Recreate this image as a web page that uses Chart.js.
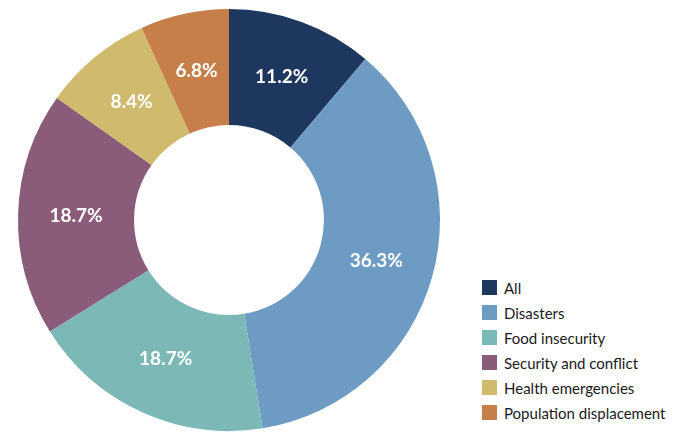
<!DOCTYPE html>
<html>
<head>
<meta charset="utf-8">
<script src="https://cdn.jsdelivr.net/npm/chart.js@4.4.1/dist/chart.umd.min.js"></script>
<style>
  html, body { margin: 0; padding: 0; background: #fff; }
  #wrap { position: relative; width: 680px; height: 442px; }
  #chart { position: absolute; left: 0; top: 0; }
  #legend { position: absolute; left: 482px; top: 275px; font-family: Lato, "Open Sans", sans-serif; font-size: 15px; color: #1a1a1a; }
  #legend div { display: flex; align-items: center; height: 25px; }
  #legend span.box { width: 15px; height: 15px; margin-right: 7px; display: inline-block; }
</style>
</head>
<body>
<div id="wrap">
  <canvas id="chart" width="460" height="442"></canvas>
  <div id="legend"></div>
</div>
<script>
// Share of items by category (%)
const categories = ["All", "Disasters", "Food insecurity", "Security and conflict", "Health emergencies", "Population displacement"];
const shares = [11.2, 36.3, 18.7, 18.7, 8.4, 6.8];
const colors = ["#1e375e", "#6e9bc3", "#7bb8b6", "#8a5c7a", "#cfba6e", "#c67f48"];

// Percent labels drawn in the middle of each slice
const sliceLabels = {
  id: "sliceLabels",
  afterDatasetsDraw(chart) {
    const ctx = chart.ctx;
    const meta = chart.getDatasetMeta(0);
    ctx.save();
    ctx.fillStyle = "#fff";
    ctx.font = "bold 19px Lato, 'Open Sans', sans-serif";
    ctx.textAlign = "center";
    ctx.textBaseline = "middle";
    meta.data.forEach((arc, i) => {
      const pos = arc.tooltipPosition();
      ctx.fillText(shares[i].toFixed(1) + "%", pos.x, pos.y);
    });
    ctx.restore();
  }
};

const ctx = document.getElementById("chart").getContext("2d");
const chart = new Chart(ctx, {
  type: "doughnut",
  data: {
    labels: categories,
    datasets: [{
      data: shares,
      backgroundColor: colors,
      borderWidth: 0
    }]
  },
  options: {
    responsive: false,
    animation: false,
    cutout: "45%",
    layout: { padding: { top: 9, bottom: 11, left: 18, right: 20 } },
    plugins: {
      legend: { display: false },
      tooltip: { enabled: false }
    }
  },
  plugins: [sliceLabels]
});

// Legend
const legend = document.getElementById("legend");
categories.forEach((name, i) => {
  const row = document.createElement("div");
  const box = document.createElement("span");
  box.className = "box";
  box.style.background = colors[i];
  row.appendChild(box);
  row.appendChild(document.createTextNode(name));
  legend.appendChild(row);
});
</script>
</body>
</html>
